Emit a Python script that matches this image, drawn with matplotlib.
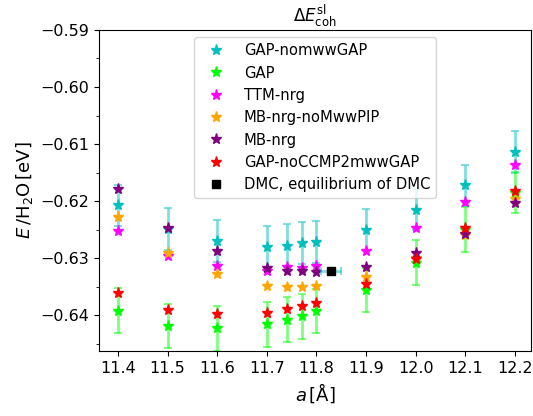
import matplotlib
matplotlib.use("Agg")
import matplotlib.pyplot as plt
from matplotlib.ticker import MultipleLocator

a_vals = [11.4, 11.5, 11.6, 11.7, 11.74, 11.77, 11.8, 11.9, 12.0, 12.1, 12.2]

gap_nomww = [-0.6207, -0.6249, -0.6270, -0.6280, -0.6278, -0.6274, -0.6272, -0.6250, -0.6215, -0.6172, -0.6114]
gap_nomww_err = [0.0036, 0.0036, 0.0037, 0.0037, 0.0037, 0.0037, 0.0037, 0.0036, 0.0036, 0.0036, 0.0036]
gap = [-0.6392, -0.6419, -0.6423, -0.6416, -0.6408, -0.6402, -0.6393, -0.6356, -0.6308, -0.6250, -0.6185]
gap_err = [0.0039, 0.0039, 0.0039, 0.0039, 0.0039, 0.0039, 0.0039, 0.0039, 0.0039, 0.0039, 0.0036]
ttm_nrg = [-0.6252, -0.6296, -0.6314, -0.6322, -0.6315, -0.6318, -0.6313, -0.6288, -0.6248, -0.6202, -0.6137]
mbnrg_nomww = [-0.6228, -0.6291, -0.6327, -0.6349, -0.6351, -0.6350, -0.6349, -0.6333, -0.6299, -0.6260, -0.6197]
mbnrg = [-0.6179, -0.6247, -0.6288, -0.6318, -0.6322, -0.6322, -0.6325, -0.6315, -0.6291, -0.6257, -0.6204]
gap_noccmp2 = [-0.6361, -0.6391, -0.6398, -0.6397, -0.6389, -0.6384, -0.6378, -0.6346, -0.6302, -0.6248, -0.6182]

dmc_a = [11.83]
dmc_e = [-0.6322]
dmc_aerr = [0.02]
dmc_eerr = [0.0003]

fig = plt.figure(figsize=(5.33, 4.16), dpi=100)
ax = fig.add_axes([0.186, 0.156, 0.81, 0.772])

ms = 8
ax.errorbar(a_vals, gap_nomww, yerr=gap_nomww_err, fmt='none', ecolor='c', alpha=0.5, lw=2, capsize=3, capthick=1.5)
ax.errorbar(a_vals, gap, yerr=gap_err, fmt='none', ecolor='lime', alpha=0.5, lw=2, capsize=3, capthick=1.5)
ax.plot(a_vals, gap_nomww, '*', color='c', ms=ms, label='GAP-nomwwGAP', ls='none')
ax.plot(a_vals, gap, '*', color='lime', ms=ms, label='GAP', ls='none')
ax.plot(a_vals, ttm_nrg, '*', color='magenta', ms=ms, label='TTM-nrg', ls='none')
ax.plot(a_vals, mbnrg_nomww, '*', color='orange', ms=ms, label='MB-nrg-noMwwPIP', ls='none')
ax.plot(a_vals, mbnrg, '*', color='purple', ms=ms, label='MB-nrg', ls='none')
ax.plot(a_vals, gap_noccmp2, '*', color='red', ms=ms, label='GAP-noCCMP2mwwGAP', ls='none')
ax.errorbar(dmc_a, dmc_e, xerr=dmc_aerr, yerr=dmc_eerr, fmt='none', ecolor='c', alpha=0.5, lw=2, capsize=3, capthick=1.5)
ax.plot(dmc_a, dmc_e, 's', color='black', ms=6, label='DMC, equilibrium of DMC', ls='none')

ax.set_ylim(-0.6463, -0.59)
ax.set_xlim(11.362, 12.232)
ax.set_xticks([11.4, 11.5, 11.6, 11.7, 11.8, 11.9, 12.0, 12.1, 12.2])
ax.yaxis.set_major_locator(MultipleLocator(0.01))
ax.yaxis.set_minor_locator(MultipleLocator(0.005))
ax.tick_params(labelsize=11.5)
ax.set_xlabel(r'$a\,[\mathrm{\AA}]$', fontsize=13)
ax.set_ylabel(r'$E\,/\mathrm{H_2O}\,[\mathrm{eV}]$', fontsize=13)
ax.set_title(r'$\Delta E^{\mathrm{sl}}_{\mathrm{coh}}$', fontsize=12)
ax.legend(loc='upper center', fontsize=10.6, handlelength=2.2)

fig.savefig('out.png', dpi=100)
